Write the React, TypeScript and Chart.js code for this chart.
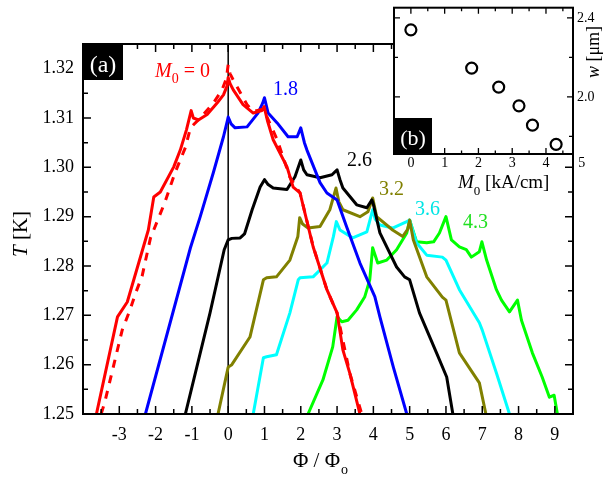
import React, { useEffect, useRef } from 'react';
import { Chart, registerables } from 'chart.js';

Chart.register(...registerables);

const SERIF = '"Liberation Serif", "Times New Roman", serif';

// ---- main panel (a) data: T [K] vs Phi / Phi_o ----
const redX = [-3.63, -3.05, -2.78, -2.2, -2.05, -1.87, -1.5, -1.32, -1.15, -1.02, -0.96, -0.82, -0.58, -0.3, -0.13, -0.03, 0, 0.05, 0.14, 0.41, 0.69, 0.93, 0.99, 1.08, 1.24, 1.62, 1.79, 1.98, 2.34, 2.72, 3.0, 3.16, 3.35, 3.63];
const redY = [1.25, 1.2697, 1.2727, 1.2873, 1.294, 1.295, 1.3001, 1.3035, 1.3076, 1.3115, 1.31, 1.3096, 1.3107, 1.3131, 1.3147, 1.3165, 1.3182, 1.317, 1.3157, 1.3127, 1.311, 1.3115, 1.3123, 1.3095, 1.3056, 1.3001, 1.296, 1.2948, 1.2839, 1.2752, 1.2705, 1.263, 1.2583, 1.25];

const redDashX = [-3.5, -3.4, -3.15, -2.92, -2.71, -2.55, -2.37, -2.14, -1.75, -1.46, -1.18, -1.04, -0.77, -0.41, -0.17, -0.05, 0, 0.05, 0.14, 0.52, 0.69, 0.97, 1.35, 1.7, 1.98, 2.34, 2.72, 3.0, 3.35, 3.68];
const redDashY = [1.25, 1.2524, 1.26, 1.267, 1.271, 1.2745, 1.278, 1.2857, 1.2928, 1.299, 1.304, 1.308, 1.31, 1.313, 1.3157, 1.318, 1.3208, 1.319, 1.3177, 1.3127, 1.3113, 1.3118, 1.3056, 1.298, 1.2948, 1.284, 1.2752, 1.2705, 1.2583, 1.25];

const blueX = [-2.28, -1.04, -0.77, -0.41, -0.13, -0.02, 0, 0.08, 0.19, 0.52, 0.82, 0.95, 1.0, 1.1, 1.35, 1.65, 1.9, 2.0, 2.1, 2.17, 2.53, 2.72, 2.88, 3.0, 3.26, 3.63, 4.04, 4.18, 4.55, 4.92];
const blueY = [1.25, 1.2837, 1.29, 1.2989, 1.3062, 1.3095, 1.3102, 1.3088, 1.308, 1.3082, 1.311, 1.313, 1.3141, 1.311, 1.309, 1.3062, 1.3062, 1.308, 1.305, 1.3035, 1.2969, 1.2948, 1.294, 1.2934, 1.288, 1.2806, 1.2738, 1.2697, 1.2595, 1.25];

const blackX = [-1.18, -0.5, -0.11, 0, 0.1, 0.33, 0.45, 0.66, 0.88, 1.0, 1.1, 1.24, 1.62, 1.84, 2.0, 2.08, 2.17, 2.53, 2.86, 3.0, 3.08, 3.16, 3.54, 3.82, 3.96, 4.0, 4.18, 4.64, 4.86, 5.0, 5.27, 5.74, 6.02, 6.19];
const blackY = [1.25, 1.2705, 1.2833, 1.2853, 1.2856, 1.2857, 1.2865, 1.2914, 1.296, 1.2975, 1.2965, 1.2958, 1.2955, 1.2981, 1.3015, 1.2995, 1.2985, 1.2979, 1.2985, 1.2995, 1.2975, 1.2958, 1.2924, 1.2918, 1.2934, 1.2925, 1.2867, 1.2798, 1.2778, 1.2772, 1.2705, 1.2624, 1.2575, 1.25];

const oliveX = [-0.28, 0, 0.1, 0.6, 0.97, 1.06, 1.33, 1.7, 1.92, 1.97, 2.05, 2.2, 2.53, 2.8, 2.97, 3.05, 3.16, 3.63, 3.85, 3.98, 4.09, 4.53, 4.81, 4.95, 5.0, 5.1, 5.47, 5.9, 6.0, 6.37, 6.92, 7.1];
const oliveY = [1.25, 1.2595, 1.26, 1.2656, 1.2772, 1.2776, 1.2778, 1.2812, 1.286, 1.2898, 1.2885, 1.2877, 1.288, 1.2914, 1.2958, 1.293, 1.2914, 1.29, 1.291, 1.2938, 1.29, 1.2873, 1.286, 1.2875, 1.2893, 1.2853, 1.2778, 1.2737, 1.2731, 1.2624, 1.2563, 1.25];

const cyanX = [0.69, 0.97, 1.06, 1.33, 1.7, 1.93, 1.98, 2.34, 2.72, 2.9, 2.98, 3.08, 3.43, 3.82, 3.98, 4.05, 4.18, 4.53, 4.92, 5.0, 5.19, 5.47, 5.9, 6.0, 6.37, 6.92, 7.0, 7.39, 7.75];
const cyanY = [1.25, 1.2614, 1.2616, 1.262, 1.2705, 1.2772, 1.2776, 1.2778, 1.2806, 1.286, 1.289, 1.2873, 1.2857, 1.2869, 1.2914, 1.2895, 1.2883, 1.2877, 1.289, 1.2893, 1.2847, 1.2822, 1.2818, 1.2812, 1.2752, 1.2685, 1.267, 1.2583, 1.25];

const greenX = [2.2, 2.61, 2.88, 3.0, 3.13, 3.3, 3.54, 3.76, 3.9, 3.98, 4.12, 4.37, 4.64, 4.92, 5.0, 5.19, 5.47, 5.66, 5.82, 6.0, 6.15, 6.37, 6.56, 6.7, 6.92, 6.99, 7.12, 7.39, 7.53, 7.75, 7.97, 8.08, 8.38, 8.65, 8.85, 8.98, 9.07];
const greenY = [1.25, 1.2569, 1.2636, 1.2697, 1.2687, 1.269, 1.2711, 1.2737, 1.2772, 1.2837, 1.2806, 1.2812, 1.2833, 1.2867, 1.2893, 1.2849, 1.2847, 1.2849, 1.2867, 1.29, 1.2853, 1.2839, 1.2833, 1.2818, 1.2829, 1.2849, 1.2812, 1.2752, 1.2731, 1.2707, 1.2731, 1.269, 1.2624, 1.2575, 1.2534, 1.2538, 1.25];

const zeroLineX = [0, 0];
const zeroLineY = [1.25, 1.325];

const seriesLabels = ['0', '1.8', '2.6', '3.2', '3.6', '4.3'];

// ---- inset (b) data: w [um] vs M0 [kA/cm] ----
const insetM0 = [0, 1.8, 2.6, 3.2, 3.6, 4.3];
const insetW = [2.34, 2.146, 2.05, 1.955, 1.857, 1.76];
const insetExtraXTick = [5];

const pts = (xs: number[], ys: number[]) => xs.map((x, i) => ({ x, y: ys[i] }));

const noPad = (s: any) => {
  s.paddingTop = 0;
  s.paddingBottom = 0;
  s.paddingLeft = 0;
  s.paddingRight = 0;
};

const mainPlugin = {
  id: 'mainDecor',
  afterDraw(chart: any) {
    const { ctx, chartArea: a, scales } = chart;
    const xs = scales.x;
    const ys = scales.y;
    ctx.save();
    ctx.strokeStyle = '#000';
    ctx.lineWidth = 2;
    ctx.strokeRect(a.left, a.top, a.right - a.left, a.bottom - a.top);
    ctx.lineWidth = 1.5;
    ctx.beginPath();
    for (let k = -8; k <= 19; k++) {
      const p = xs.getPixelForValue(k / 2);
      if (p < a.left + 1 || p > a.right - 1) continue;
      const len = k % 2 === 0 ? 8 : 5;
      ctx.moveTo(p, a.bottom);
      ctx.lineTo(p, a.bottom - len);
      ctx.moveTo(p, a.top);
      ctx.lineTo(p, a.top + len);
    }
    for (let k = 0; k <= 15; k++) {
      const p = ys.getPixelForValue(1.25 + k * 0.005);
      if (p < a.top + 1 || p > a.bottom - 1) continue;
      const len = k % 2 === 0 ? 8 : 5;
      ctx.moveTo(a.left, p);
      ctx.lineTo(a.left + len, p);
      ctx.moveTo(a.right, p);
      ctx.lineTo(a.right - len, p);
    }
    ctx.stroke();

    // (a) box
    ctx.fillStyle = '#000';
    ctx.fillRect(a.left, a.top, 40, 36);
    ctx.fillStyle = '#fff';
    ctx.font = `24px ${SERIF}`;
    ctx.textAlign = 'center';
    ctx.textBaseline = 'alphabetic';
    ctx.fillText('(a)', a.left + 20, a.top + 28);

    // axis titles
    ctx.fillStyle = '#000';
    ctx.textAlign = 'left';
    ctx.font = `21px ${SERIF}`;
    let x0 = 293;
    ctx.fillText('\u03A6 / \u03A6', x0, 467);
    x0 += ctx.measureText('\u03A6 / \u03A6').width;
    ctx.font = `14px ${SERIF}`;
    ctx.fillText('o', x0 + 1, 474);

    ctx.save();
    ctx.translate(27, 234);
    ctx.rotate(-Math.PI / 2);
    ctx.font = `italic 21px ${SERIF}`;
    const wT = ctx.measureText('T').width;
    ctx.font = `21px ${SERIF}`;
    const wK = ctx.measureText(' [K]').width;
    const sx = -(wT + wK) / 2;
    ctx.font = `italic 21px ${SERIF}`;
    ctx.fillText('T', sx, 0);
    ctx.font = `21px ${SERIF}`;
    ctx.fillText(' [K]', sx + wT, 0);
    ctx.restore();

    // curve labels
    ctx.fillStyle = '#ff0000';
    ctx.font = `italic 20px ${SERIF}`;
    ctx.fillText('M', 155, 77);
    let mx = 155 + ctx.measureText('M').width;
    ctx.font = `14px ${SERIF}`;
    ctx.fillText('0', mx, 83);
    mx += ctx.measureText('0').width;
    ctx.font = `20px ${SERIF}`;
    ctx.fillText(' = ' + seriesLabels[0], mx, 77);

    const lab: [string, string, number, number][] = [
      [seriesLabels[1], '#0000ff', 273, 95],
      [seriesLabels[2], '#000000', 347, 166],
      [seriesLabels[3], '#808000', 379, 195],
      [seriesLabels[4], '#00e5e5', 415, 215],
      [seriesLabels[5], '#22e022', 463, 228],
    ];
    ctx.font = `20px ${SERIF}`;
    for (const [t, c, x, y] of lab) {
      ctx.fillStyle = c;
      ctx.fillText(t, x, y);
    }
    ctx.restore();
  },
};

const insetPlugin = {
  id: 'insetDecor',
  beforeDraw(chart: any) {
    const { ctx, chartArea: a } = chart;
    ctx.save();
    ctx.fillStyle = '#fff';
    ctx.fillRect(a.left - 1, a.top - 1, a.right - a.left + 2, a.bottom - a.top + 2);
    ctx.restore();
  },
  afterDraw(chart: any) {
    const { ctx, chartArea: a, scales } = chart;
    const xs = scales.x;
    const ys = scales.y;
    ctx.save();
    ctx.strokeStyle = '#000';
    ctx.lineWidth = 2;
    ctx.strokeRect(a.left, a.top, a.right - a.left, a.bottom - a.top);
    ctx.lineWidth = 1.3;
    ctx.beginPath();
    for (let k = -1; k <= 10; k++) {
      const p = xs.getPixelForValue(k / 2);
      if (p < a.left + 1 || p > a.right - 1) continue;
      const len = k % 2 === 0 ? 6 : 3.5;
      ctx.moveTo(p, a.bottom);
      ctx.lineTo(p, a.bottom - len);
      ctx.moveTo(p, a.top);
      ctx.lineTo(p, a.top + len);
    }
    for (let k = 0; k <= 3; k++) {
      const v = 1.8 + k * 0.2;
      const p = ys.getPixelForValue(v);
      if (p < a.top + 1 || p > a.bottom - 1) continue;
      const len = k % 2 === 1 ? 6 : 4;
      ctx.moveTo(a.left, p);
      ctx.lineTo(a.left + len, p);
      ctx.moveTo(a.right, p);
      ctx.lineTo(a.right - len, p);
    }
    ctx.stroke();

    // extra tick label beyond the frame
    ctx.fillStyle = '#000';
    ctx.font = `14px ${SERIF}`;
    ctx.textAlign = 'center';
    ctx.textBaseline = 'middle';
    for (const v of insetExtraXTick) {
      ctx.fillText(String(v), xs.getPixelForValue(v) + 2, 163);
    }

    // (b) box
    ctx.fillStyle = '#000';
    ctx.fillRect(a.left, a.bottom - 36, 38, 36);
    ctx.fillStyle = '#fff';
    ctx.font = `22px ${SERIF}`;
    ctx.textBaseline = 'alphabetic';
    ctx.fillText('(b)', a.left + 19, a.bottom - 9);

    // x title: M0 [kA/cm]
    ctx.fillStyle = '#000';
    ctx.textAlign = 'left';
    let x0 = 88;
    ctx.font = `italic 19px ${SERIF}`;
    ctx.fillText('M', x0, 188);
    x0 += ctx.measureText('M').width;
    ctx.font = `13px ${SERIF}`;
    ctx.fillText('0', x0, 195);
    x0 += ctx.measureText('0').width;
    ctx.font = `19px ${SERIF}`;
    ctx.fillText(' [kA/cm]', x0, 188);

    // y title: w [um] on the right
    ctx.save();
    ctx.translate(229, 52);
    ctx.rotate(-Math.PI / 2);
    ctx.font = `italic 18px ${SERIF}`;
    const ww = ctx.measureText('w').width;
    ctx.font = `18px ${SERIF}`;
    const wu = ctx.measureText(' [\u03BCm]').width;
    const s = -(ww + wu) / 2;
    ctx.font = `italic 18px ${SERIF}`;
    ctx.fillText('w', s, 0);
    ctx.font = `18px ${SERIF}`;
    ctx.fillText(' [\u03BCm]', s + ww, 0);
    ctx.restore();
    ctx.restore();
  },
};

const lineDs = (xs: number[], ys: number[], color: string, extra: any = {}) => ({
  data: pts(xs, ys),
  borderColor: color,
  backgroundColor: color,
  borderWidth: 3,
  pointRadius: 0,
  tension: 0,
  fill: false,
  borderJoinStyle: 'round',
  borderCapStyle: 'round',
  ...extra,
});

export default function App() {
  const mainRef = useRef<HTMLCanvasElement | null>(null);
  const insetRef = useRef<HTMLCanvasElement | null>(null);

  useEffect(() => {
    const tickFont = { family: SERIF, size: 18 };
    const main = new Chart(mainRef.current as HTMLCanvasElement, {
      type: 'line',
      data: {
        datasets: [
          lineDs(redX, redY, '#ff0000'),
          lineDs(redDashX, redDashY, '#ff0000', { borderDash: [8, 8], borderCapStyle: 'butt' }),
          lineDs(blueX, blueY, '#0000ff'),
          lineDs(blackX, blackY, '#000000'),
          lineDs(oliveX, oliveY, '#808000'),
          lineDs(cyanX, cyanY, '#00ffff'),
          lineDs(greenX, greenY, '#00ff00'),
          lineDs(zeroLineX, zeroLineY, '#000000', { borderWidth: 1.5 }),
        ] as any,
      },
      options: {
        animation: false,
        responsive: false,
        devicePixelRatio: 1,
        plugins: { legend: { display: false }, tooltip: { enabled: false } },
        layout: { padding: { left: 0, top: 44, right: 35, bottom: 0 } },
        scales: {
          x: {
            type: 'linear',
            min: -4,
            max: 9.5,
            grid: { display: false, drawTicks: false },
            border: { display: false },
            ticks: {
              stepSize: 1,
              includeBounds: false,
              autoSkip: false,
              maxRotation: 0,
              padding: 10,
              color: '#000',
              font: tickFont,
              callback: (v: any) => (v < -3.5 ? '' : String(v)),
            },
            afterFit: (s: any) => {
              s.height = 64;
              noPad(s);
            },
          },
          y: {
            type: 'linear',
            min: 1.25,
            max: 1.325,
            grid: { display: false, drawTicks: false },
            border: { display: false },
            ticks: {
              stepSize: 0.01,
              includeBounds: false,
              autoSkip: false,
              padding: 9,
              color: '#000',
              font: tickFont,
              callback: (v: any) => Number(v).toFixed(2),
            },
            afterFit: (s: any) => {
              s.width = 83;
              noPad(s);
            },
          },
        },
      } as any,
      plugins: [mainPlugin],
    });

    const inset = new Chart(insetRef.current as HTMLCanvasElement, {
      type: 'scatter',
      data: {
        datasets: [
          {
            data: pts(insetM0, insetW),
            pointStyle: 'circle',
            pointRadius: 5.5,
            borderWidth: 2.2,
            borderColor: '#000',
            backgroundColor: 'rgba(0,0,0,0)',
          },
        ],
      },
      options: {
        animation: false,
        responsive: false,
        devicePixelRatio: 1,
        plugins: { legend: { display: false }, tooltip: { enabled: false } },
        layout: { padding: { left: 24, top: 7, right: 0, bottom: 0 } },
        scales: {
          x: {
            type: 'linear',
            min: -0.5,
            max: 4.8,
            grid: { display: false, drawTicks: false },
            border: { display: false },
            ticks: {
              stepSize: 1,
              includeBounds: false,
              autoSkip: false,
              maxRotation: 0,
              padding: 1,
              color: '#000',
              font: { family: SERIF, size: 14 },
            },
            afterFit: (s: any) => {
              s.height = 46;
              noPad(s);
            },
          },
          y: {
            type: 'linear',
            position: 'right',
            min: 1.711,
            max: 2.452,
            grid: { display: false, drawTicks: false },
            border: { display: false },
            ticks: {
              stepSize: 0.4,
              includeBounds: false,
              autoSkip: false,
              padding: 4,
              color: '#000',
              font: { family: SERIF, size: 14 },
              callback: (v: any) => Number(v).toFixed(1),
            },
            afterFit: (s: any) => {
              s.width = 35;
              noPad(s);
            },
          },
        },
      } as any,
      plugins: [insetPlugin],
    });

    return () => {
      main.destroy();
      inset.destroy();
    };
  }, []);

  return (
    <div style={{ position: 'absolute', left: 0, top: 0, width: 608, height: 478, background: '#fff' }}>
      <canvas
        ref={mainRef}
        width={608}
        height={478}
        style={{ position: 'absolute', left: 0, top: 0, width: 608, height: 478 }}
      />
      <canvas
        ref={insetRef}
        width={238}
        height={200}
        style={{ position: 'absolute', left: 370, top: 0, width: 238, height: 200 }}
      />
    </div>
  );
}
